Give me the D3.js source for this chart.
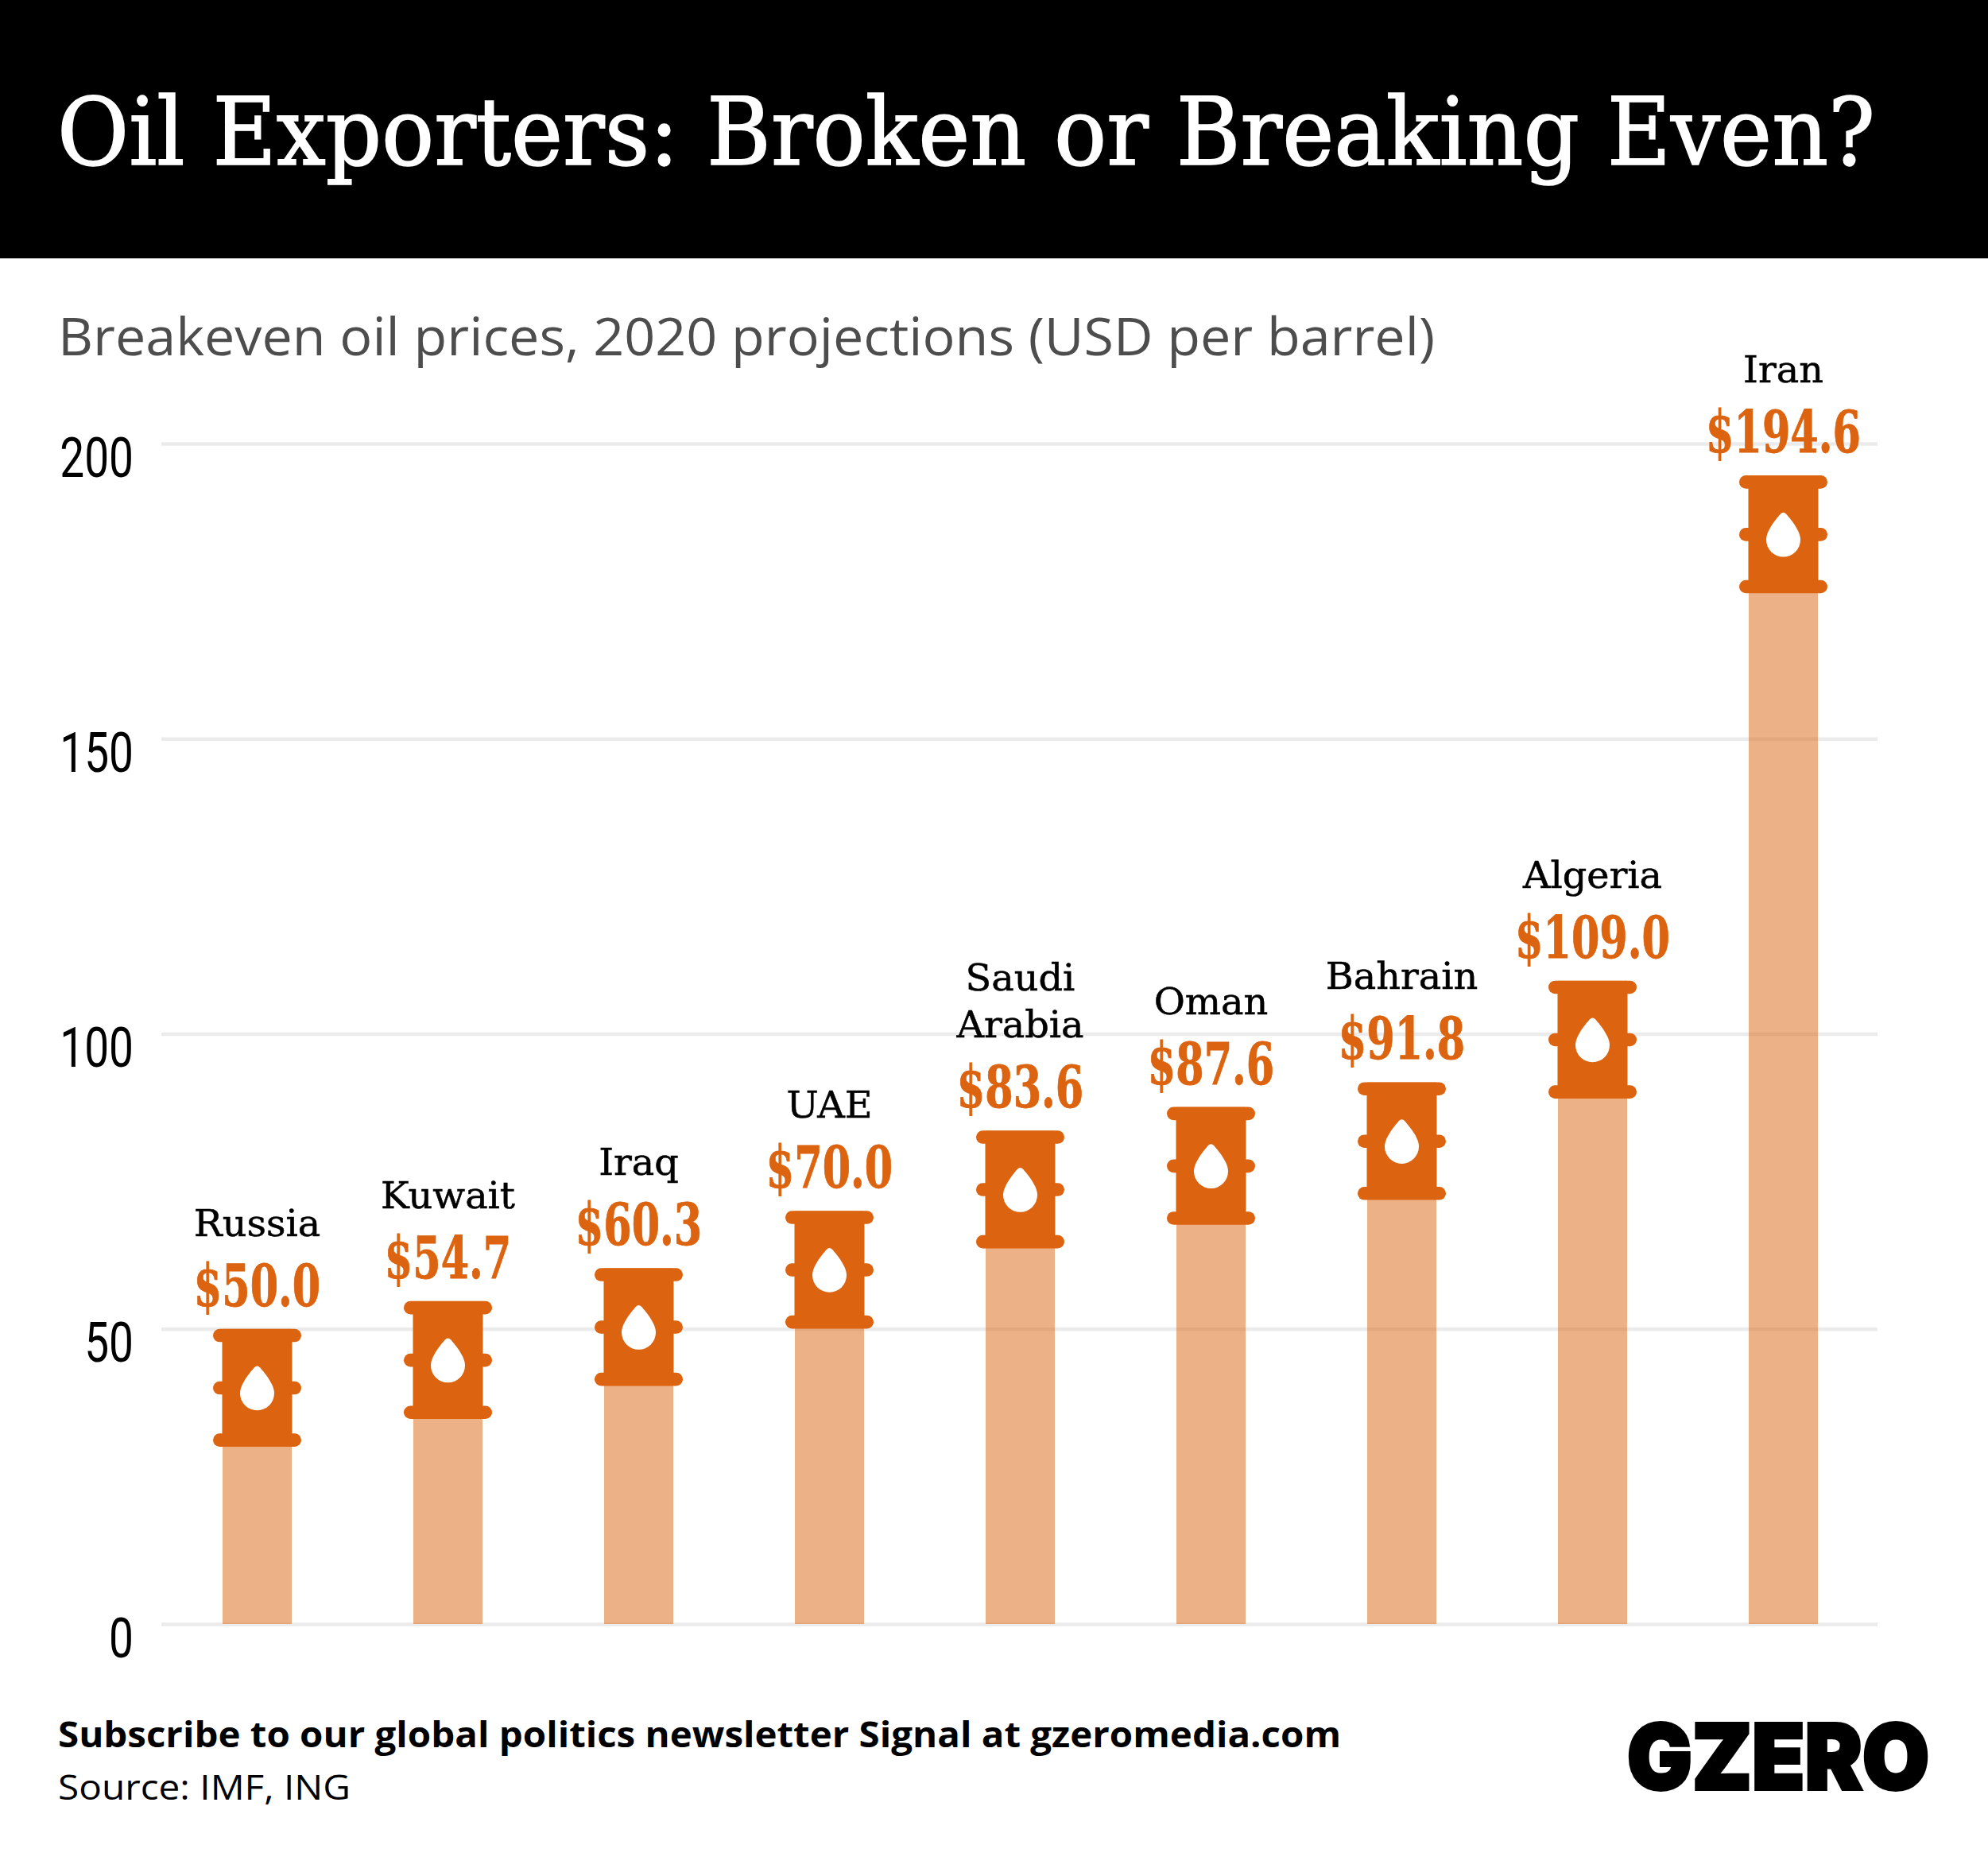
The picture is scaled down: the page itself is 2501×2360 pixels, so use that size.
<!DOCTYPE html>
<html><head><meta charset="utf-8">
<style>html,body{margin:0;padding:0;background:#fff}svg{display:block}</style>
<script src="https://cdn.jsdelivr.net/npm/d3@7"></script></head>
<body><svg id="c" width="2501" height="2360"></svg>
<script>
const categories = ["Russia","Kuwait","Iraq","UAE","Saudi Arabia","Oman","Bahrain","Algeria","Iran"];
const values = [50.0,54.7,60.3,70.0,83.6,87.6,91.8,109.0,194.6];
const tickLabels = [0,50,100,150,200];
const nameLines = [["Russia"],["Kuwait"],["Iraq"],["UAE"],["Saudi","Arabia"],["Oman"],["Bahrain"],["Algeria"],["Iran"]];
const titleText = "Oil Exporters: Broken or Breaking Even?";
const subtitleText = "Breakeven oil prices, 2020 projections (USD per barrel)";
const subscribeText = "Subscribe to our global politics newsletter Signal at gzeromedia.com";
const sourceText = "Source: IMF, ING";
const logoText = "GZERO";

const ORANGE = "#dc630f";
const SERIF = "'DejaVu Serif Condensed','DejaVu Serif',serif";
const svg = d3.select("#c");
const x = d3.scaleBand().domain(categories).range([203.5,2363.5]).paddingInner(0.6375).paddingOuter(0.31875);
const y = d3.scaleLinear().domain([0,200]).range([2043,558]);

function fit(sel,w){ sel.attr("textLength",w).attr("lengthAdjust","spacingAndGlyphs"); return sel; }

// header
svg.append("rect").attr("width",2501).attr("height",325).attr("fill","#000");
fit(svg.append("text").attr("x",72).attr("y",207).attr("fill","#fff")
  .attr("stroke","#fff").attr("stroke-width",1.6)
  .style("font-family",SERIF).style("font-size","118px").text(titleText),2287);
fit(svg.append("text").attr("x",73).attr("y",447).attr("fill","#4d4d4d")
  .style("font-family","'Open Sans'").style("font-size","66px").text(subtitleText),1732);

// axis + grid
const axis = d3.axisLeft(y).tickValues(tickLabels).tickFormat(d=>d).tickSize(-(2362-203)).tickPadding(0);
const ga = svg.append("g").attr("transform","translate(203,0)").call(axis);
ga.select(".domain").remove();
ga.selectAll(".tick line").attr("stroke","#ebebeb").attr("stroke-width",4.5);
ga.selectAll(".tick text").attr("x",0).attr("y",0).attr("dy",0).attr("text-anchor","end")
  .attr("transform","translate(-35,41) scale(0.775,1)")
  .attr("fill","#000").style("font-family","Roboto").style("font-size","71px");

// bars
svg.append("g").selectAll("rect").data(categories).join("rect")
  .attr("x",d=>x(d)).attr("width",x.bandwidth())
  .attr("y",(d,i)=>y(values[i])).attr("height",(d,i)=>y(0)-y(values[i]))
  .attr("fill",ORANGE).attr("fill-opacity",0.5);

// barrels
const barrels = svg.append("g").selectAll("g").data(categories).join("g")
  .attr("transform",(d,i)=>`translate(${x(d)+x.bandwidth()/2},${y(values[i])})`);
barrels.append("rect").attr("x",-44).attr("width",88).attr("y",4).attr("height",140).attr("fill",ORANGE);
[0,66,131.6].forEach(t=>{
  barrels.append("rect").attr("x",-55.5).attr("width",111).attr("y",t).attr("height",16.6)
    .attr("rx",8.3).attr("fill",ORANGE);
});
barrels.append("path").attr("fill","#fff")
  .attr("d","M-4,49 C-10,56 -21.5,70 -21.5,81 A21.5,21.5 0 0 0 21.5,81 C21.5,70 10,56 4,49 Q0,44.5 -4,49Z");

// labels
const lab = svg.append("g").selectAll("g").data(categories).join("g")
  .attr("transform",(d,i)=>`translate(${x(d)+x.bandwidth()/2},${y(values[i])})`);
lab.append("text").attr("text-anchor","middle").attr("y",-29).attr("fill",ORANGE)
  .attr("stroke",ORANGE).attr("stroke-width",0.8)
  .attr("transform","scale(0.775,1)")
  .style("font-family",SERIF).style("font-weight","700").style("font-size","73px")
  .text((d,i)=>"$"+values[i].toFixed(1));
lab.each(function(d,i){
  const lines = nameLines[i], g = d3.select(this);
  lines.forEach((t,j)=>{
    g.append("text").attr("text-anchor","middle").attr("y",-117-(lines.length-1-j)*59).attr("fill","#000")
      .attr("stroke","#000").attr("stroke-width",0.5)
      .attr("transform","scale(1.13,1)")
      .style("font-family",SERIF).style("font-size","47px").text(t);
  });
});

// footer
fit(svg.append("text").attr("x",73).attr("y",2198).attr("fill","#000")
  .style("font-family","'Open Sans'").style("font-weight","700").style("font-size","44px").text(subscribeText),1614);
fit(svg.append("text").attr("x",73).attr("y",2264).attr("fill","#000")
  .style("font-family","'Open Sans'").style("font-size","44px").text(sourceText),368);
fit(svg.append("text").attr("x",2047).attr("y",2251).attr("fill","#000")
  .attr("stroke","#000").attr("stroke-width",4)
  .style("font-family","Inter").style("font-weight","900").style("font-size","114px").text(logoText),380);
</script></body></html>
